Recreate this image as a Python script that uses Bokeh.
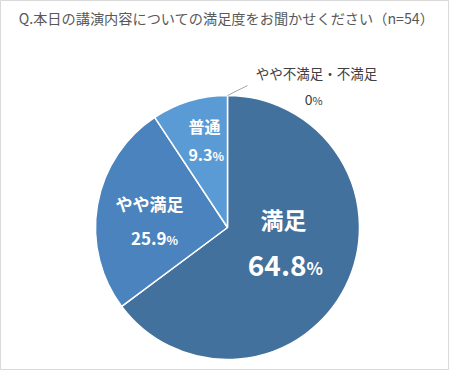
import math
from bokeh.plotting import figure
from bokeh.models import Range1d, ColumnDataSource
from bokeh.core.properties import value
from bokeh.embed import file_html
from bokeh.resources import INLINE

# ---- data ----
title_text = "Q.本日の講演内容についての満足度をお聞かせください（n=54）"
categories = ["満足", "やや満足", "普通", "やや不満足・不満足"]
percents = [64.8, 25.9, 9.3, 0.0]
colors = ["#41719C", "#4A83BD", "#5B9BD5", "#A5A5A5"]

W, H = 449, 370
p = figure(width=W, height=H, output_backend="svg", toolbar_location=None,
           x_range=Range1d(0, W), y_range=Range1d(0, H), min_border=0,
           outline_line_color="#D9D9D9", outline_line_width=1)
p.axis.visible = False
p.grid.visible = False
p.background_fill_color = "white"
p.border_fill_color = "white"

cx, cy, R = 227, 143, 132
total = sum(percents)
starts, ends = [], []
acc = 0.0
for v in percents:
    starts.append(math.pi / 2 - acc / total * 2 * math.pi)
    acc += v
    ends.append(math.pi / 2 - acc / total * 2 * math.pi)

keep = [i for i, v in enumerate(percents) if v > 0]
src = ColumnDataSource(dict(start=[starts[i] for i in keep], end=[ends[i] for i in keep],
                            color=[colors[i] for i in keep], cat=[categories[i] for i in keep]))
p.wedge(x=cx, y=cy, radius=R, radius_units="screen", start_angle="start", end_angle="end",
        direction="clock", fill_color="color", line_color="white", line_width=1.5, source=src)

FONT = value("Noto Sans CJK JP")

def txt(x, y, s, size, color="white", bold=True, align="center"):
    p.text(x=[x], y=[y], text=[s], text_font=FONT, text_font_size=f"{size}px",
           text_font_style="bold" if bold else "normal", text_color=color,
           text_align=align, text_baseline="middle")

def pct(x, y, v, size, small, color="white", bold=True):
    txt(x, y, f"{v:g}" if v == 0 else f"{v:.1f}", size, color, bold, "right")
    txt(x, y - (size - small) * 0.22, "%", small, color, bold, "left")

# in-slice labels
txt(283, 152, categories[0], 23)
pct(306, 105, percents[0], 28, 17)
txt(149, 167, categories[1], 17)
pct(166, 132, percents[1], 17, 12)
txt(204, 245, categories[2], 16)
pct(212, 216, percents[2], 16, 12)

# outside label with leader line
a0 = starts[3]
p.line(x=[cx + R * math.cos(a0), 247], y=[cy + R * math.sin(a0), 285], line_color="#A6A6A6", line_width=1)
txt(316, 298, categories[3], 13.5, "#404040", False)
txt(312, 271, "0", 14, "#404040", False, "right")
txt(312, 271, "%", 11, "#404040", False, "left")

# title
txt(226, 353, title_text, 14.2, "#595959", False)

open("out.html", "w").write(file_html(p, INLINE))
